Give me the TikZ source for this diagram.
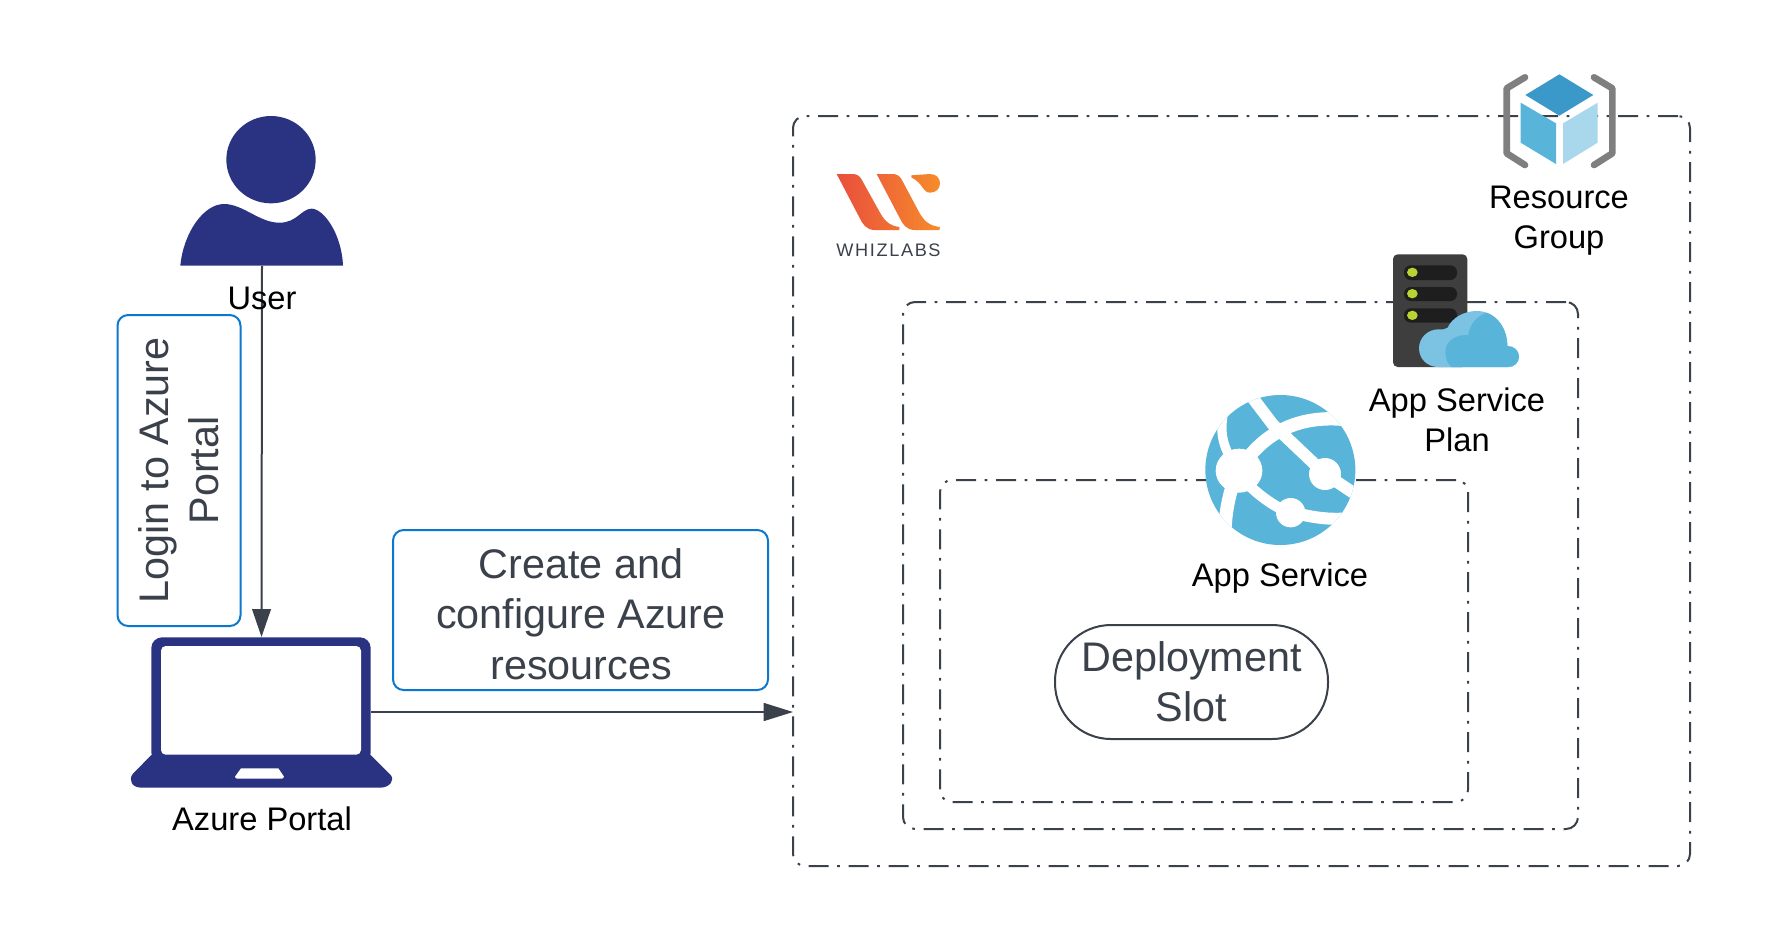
\documentclass[tikz,border=0pt]{standalone}
\usepackage{fontspec}
\setmainfont{Liberation Sans}
\newfontfamily\whizfont[LetterSpace=9]{Liberation Sans}
\usetikzlibrary{arrows.meta,shadings}
\definecolor{slate}{HTML}{3A414A}
\definecolor{navy}{HTML}{2A3382}
\definecolor{azblue}{HTML}{59B4D9}
\definecolor{azlight}{HTML}{A9D7EC}
\definecolor{azdark}{HTML}{3B99C9}
\definecolor{azcloud}{HTML}{7CC2E2}
\definecolor{boxblue}{HTML}{0B78D0}
\definecolor{bracket}{HTML}{7F7F7F}
\definecolor{rack}{HTML}{3E3E3E}
\definecolor{slotc}{HTML}{1E1E1E}
\definecolor{ledc}{HTML}{B8D432}
\definecolor{wred}{HTML}{E94E3D}
\definecolor{worange}{HTML}{F68B2B}
\tikzset{
  dotframe/.style={draw=slate,line width=1.5pt,rounded corners=9pt,inner sep=0pt,outer sep=0pt,
    dash pattern=on 15pt off 6.5pt on 2pt off 6.5pt},
  bluebox/.style={draw=boxblue,line width=1.5pt,rounded corners=8pt,inner sep=0pt,outer sep=0pt,
    text=slate,font=\fontsize{31}{37.8}\selectfont,align=center},
  blacktext/.style={text=black,font=\fontsize{24.5}{30}\selectfont,align=center,inner sep=0pt},
  iconbox/.style={inner sep=0pt,outer sep=0pt},
  flowline/.style={draw=slate,line width=1.5pt},
}
\begin{document}
\begin{tikzpicture}[x=0.75pt,y=-0.75pt]
\path[use as bounding box,fill=white] (0,0) rectangle (1766,943);

% frames
\node[dotframe,minimum width=672.75pt,minimum height=562.5pt] (rg) at (1241.5,491) {};
\node[dotframe,minimum width=506.25pt,minimum height=395.25pt] (plan) at (1240.5,565.5) {};
\node[dotframe,minimum width=396pt,minimum height=241.5pt] (app) at (1204,641) {};

% anchors for the icons
\node[iconbox,minimum width=122.25pt,minimum height=99pt] (user) at (262,200) {};
\node[iconbox,minimum width=197.25pt,minimum height=113.25pt] (portal) at (261.5,712.5) {};
\coordinate (portalout) at (371,712);

% blue boxes
\node[bluebox,rotate=90,minimum width=233.25pt,minimum height=92.25pt] (login) at (179,470.5) {Login to Azure\\Portal};
\node[bluebox,minimum width=281.25pt,minimum height=120pt,text depth=0pt] (create) at (580.5,610) {};
\node[text=slate,font=\fontsize{31}{37.8}\selectfont,align=center,inner sep=0pt] (createtxt) at (581,614) {Create and\\configure Azure\\resources};

% connectors
\draw[flowline,-{Triangle[length=21pt,width=14pt]}] (user.south) -- (portal.north);
\draw[draw=slate,line width=1pt,-{Triangle[length=22pt,width=13.5pt]}] (portalout) -- (portalout -| rg.west);

% deployment slot
\node[draw=slate,line width=1.5pt,rounded corners=42pt,inner sep=0pt,minimum width=204.75pt,minimum height=85.5pt,
  text=slate,font=\fontsize{31}{37.8}\selectfont,align=center] (slot) at (1191.5,682) {Deployment\\Slot};

% user icon
\begin{scope}[shift={(100,100)},x=.25pt,y=-.25pt]
\fill[navy] (513,179) ellipse[x radius=134,y radius=131];
\fill[navy] (241,497) .. controls (250,400) and (310,312) .. (372,312)
  .. controls (430,312) and (480,370) .. (540,368)
  .. controls (590,368) and (605,326) .. (635,326)
  .. controls (670,326) and (725,400) .. (729,497) -- cycle;
\end{scope}

% laptop icon
\begin{scope}[shift={(110,610)},x=.25pt,y=-.25pt]
\fill[navy,rounded corners=8pt] (124,460) -- (124,82) -- (782,82) -- (782,460) -- cycle;
\fill[navy] (124,435) -- (782,435) -- (842,495) .. controls (855,510) and (840,533) .. (810,533)
  -- (95,533) .. controls (65,533) and (55,510) .. (68,492) -- cycle;
\fill[white,rounded corners=3.5pt] (153,434) -- (153,108) -- (753,108) -- (753,434) -- cycle;
\fill[white] (393,475) -- (505,475) -- (522,500) .. controls (520,504) and (518,506) .. (515,506)
  -- (382,506) .. controls (378,506) and (376,504) .. (375,500) -- cycle;
\end{scope}

% whizlabs logo
\begin{scope}[shift={(780,100)},x=.25pt,y=-.25pt]
\shade[left color=wred,right color=worange]
  (170,222) -- (222,222) .. controls (238,224) and (244,236) .. (250,248)
  -- (300,338) .. controls (318,370) and (335,378) .. (358,381) -- (358,390) -- (285,390)
  .. controls (258,390) and (248,372) .. (238,352) -- cycle
  (290,222) -- (342,222) .. controls (358,224) and (364,236) .. (370,248)
  -- (418,338) .. controls (436,370) and (455,378) .. (480,381) -- (478,390) -- (405,390)
  .. controls (378,390) and (368,372) .. (358,352) -- cycle
  (394,226) -- (450,222) .. controls (470,222) and (480,236) .. (480,250)
  .. controls (480,266) and (468,278) .. (450,278) .. controls (428,278) and (430,250) .. (394,232) -- cycle;
\end{scope}
\node[inner sep=0pt,text=slate,font=\whizfont\fontsize{13.6}{16}\selectfont] (whiz) at (888.5,250) {WHIZLABS};

% resource group icon
\begin{scope}[shift={(1300,50)},x=.25pt,y=-.25pt]
\draw[bracket,line width=5pt,line cap=round,line join=round] (675,82) -- (620,115) -- (620,310) -- (675,345);
\draw[bracket,line width=5pt,line cap=round,line join=round] (882,82) -- (937,115) -- (937,310) -- (882,345);
\fill[azdark] (778,73) -- (880,135) -- (778,197) -- (676,135) -- cycle;
\fill[azblue] (662,158) -- (768,220) -- (768,342) -- (662,278) -- cycle;
\fill[azlight] (893,158) -- (789,220) -- (789,342) -- (893,278) -- cycle;

% server with cloud
\fill[rack,rounded corners=3.5pt] (279,613) rectangle (502,951);
\foreach \yy/\hh in {646/690,711/753,775/818}{
  \fill[slotc,rounded corners=5pt] (312,\yy) rectangle (471,\hh);
}
\foreach \yy in {667,731,796}{
  \fill[ledc] (337,\yy) ellipse[x radius=16,y radius=14];
}
\fill[azcloud] (415,951) .. controls (380,951) and (357,925) .. (357,895)
  .. controls (357,862) and (385,838) .. (415,838) .. controls (425,838) and (435,840) .. (443,833)
  .. controls (455,805) and (490,783) .. (530,783)
  .. controls (580,783) and (622,825) .. (622,888)
  .. controls (642,888) and (657,902) .. (657,920)
  .. controls (657,938) and (642,951) .. (625,951) -- cycle;
\fill[azblue] (455,951) .. controls (440,940) and (436,920) .. (436,905)
  .. controls (436,875) and (465,853) .. (505,855)
  .. controls (508,825) and (530,798) .. (560,788)
  .. controls (595,800) and (622,840) .. (622,888)
  .. controls (642,888) and (657,902) .. (657,920)
  .. controls (657,938) and (642,951) .. (625,951) -- cycle;
\end{scope}

% app service globe
\begin{scope}[shift={(1180,380)},x=.25pt,y=-.25pt]
\fill[azblue] (301,270) circle[radius=225];
\begin{scope}
\clip (301,270) circle[radius=225];
\draw[white,line width=9pt] (215,50) -- (278,133) -- (435,282) -- (530,345);
\draw[white,line width=10pt] (177,272) .. controls (240,170) and (340,105) .. (490,118);
\draw[white,line width=7pt] (130,100) .. controls (118,160) and (130,210) .. (170,260);
\draw[white,line width=10pt] (165,290) .. controls (150,340) and (135,390) .. (135,460);
\draw[white,line width=8pt] (190,300) .. controls (240,350) and (290,385) .. (332,398);
\draw[white,line width=9pt] (340,398) .. controls (390,410) and (440,420) .. (500,415);
\fill[white] (177,272) ellipse[x radius=70,y radius=66];
\fill[white] (435,282) circle[radius=48];
\fill[white] (332,398) circle[radius=44];
\end{scope}
\end{scope}

% labels
\node[blacktext] (userlbl) at (262,298) {User};
\node[blacktext] (portallbl) at (262,819) {Azure Portal};
\node[blacktext] (rglbl) at (1559,221) {Resource\\Group};
\node[blacktext] (planlbl) at (1457,420) {App Service\\Plan};
\node[blacktext] (applbl) at (1280,578) {App Service};
\end{tikzpicture}
\end{document}
